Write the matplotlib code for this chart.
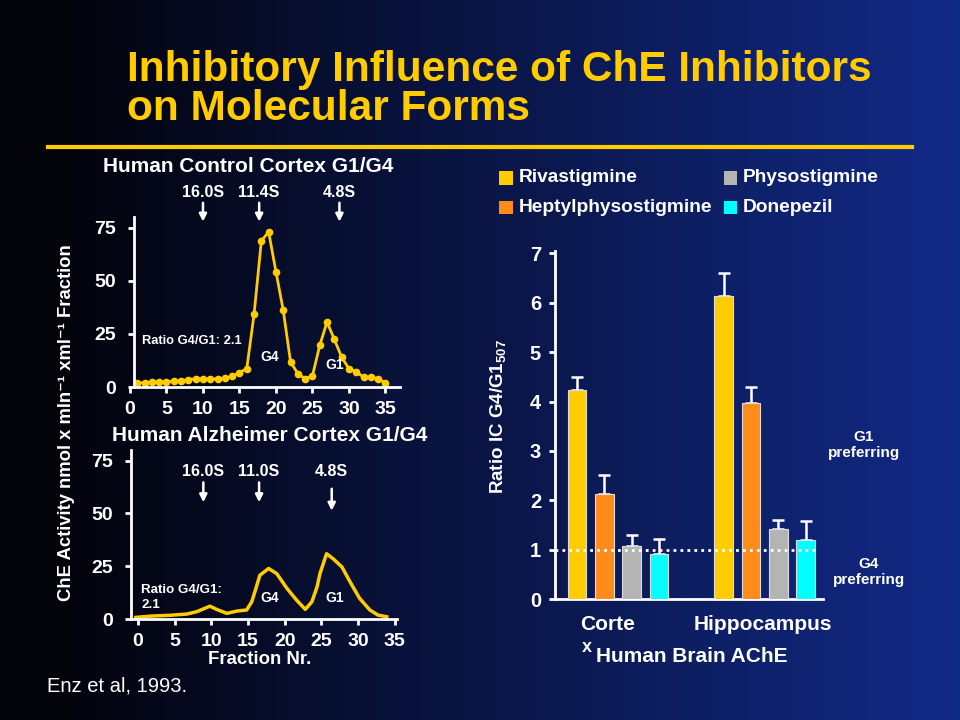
import numpy as np
import matplotlib
matplotlib.use('Agg')
import matplotlib.pyplot as plt

W, H = 960, 720
FONT = ['Liberation Sans', 'DejaVu Sans']
plt.rcParams['font.family'] = FONT
plt.rcParams['font.weight'] = 'bold'
plt.rcParams['mathtext.fontset'] = 'custom'
plt.rcParams['mathtext.rm'] = 'Liberation Sans:bold'
plt.rcParams['mathtext.default'] = 'rm'

YEL = '#FFCC00'
WHITE = 'white'

# control cortex profile (fraction, activity)
ctrl_frac = [1, 2, 3, 4, 5, 6, 7, 8, 9, 10, 11, 12, 13, 14, 15, 16, 17, 18,
             19, 20, 21, 22, 23, 24, 25, 26, 27, 28, 29, 30, 31, 32, 33, 34, 35]
ctrl_act = [1.9, 2.0, 2.4, 2.4, 2.4, 2.8, 2.8, 3.5, 3.8, 3.8, 3.8, 3.8, 4.2, 5.0,
            6.8, 8.6, 34.2, 68.8, 73.0, 54.2, 36.1, 11.8, 6.3, 3.9, 5.2, 19.6,
            30.6, 22.4, 14.1, 8.6, 7.1, 4.7, 4.7, 3.8, 2.0]

# alzheimer cortex profile (traced curve)
alz_frac = [-0.3, 1.7, 4.4, 6.7, 8.0, 9.8, 10.7, 12.1, 13.5, 14.8, 15.5, 16.0,
            16.6, 17.8, 18.9, 20.3, 21.6, 22.8, 23.7, 24.4, 24.8, 25.7, 26.6,
            27.8, 28.9, 30.2, 31.6, 32.7, 33.9]
alz_act = [0.9, 1.5, 1.9, 2.5, 3.6, 6.2, 4.7, 2.8, 3.9, 4.4, 8.3, 13.8, 20.8,
           24.0, 21.6, 14.6, 9.1, 4.7, 8.3, 15.3, 21.6, 31.0, 28.6, 24.7, 17.7,
           9.9, 4.4, 2.0, 1.2]

# right panel
regions = ['Corte', 'Hippocampus']
drugs = ['Rivastigmine', 'Heptylphysostigmine', 'Physostigmine', 'Donepezil']
drug_colors = ['#FFCC00', '#FF8C1A', '#B4B4B4', '#00FFFF']
ratio = {'Rivastigmine': [4.23, 6.13],
         'Heptylphysostigmine': [2.12, 3.96],
         'Physostigmine': [1.08, 1.43],
         'Donepezil': [0.91, 1.19]}
ratio_err = {'Rivastigmine': [0.27, 0.46],
             'Heptylphysostigmine': [0.39, 0.34],
             'Physostigmine': [0.22, 0.17],
             'Donepezil': [0.30, 0.40]}


def fx(x):
    return x / W


def fy(y):
    return 1 - y / H


fig = plt.figure(figsize=(9.6, 7.2), dpi=100)

# background gradient
bg = fig.add_axes([0, 0, 1, 1])
t = np.linspace(0, 1, 400)
s = np.clip((t - 0.05) / 0.95, 0, 1)
c0 = np.array([3, 3, 10]) / 255
c1 = np.array([18, 42, 135]) / 255
grad = c0[None, :] + (c1 - c0)[None, :] * s[:, None]
bg.imshow(grad[None, :, :], aspect='auto', extent=[0, 1, 0, 1])
bg.set_axis_off()

# title
fig.text(fx(127), fy(70), 'Inhibitory Influence of ChE Inhibitors',
         color=YEL, fontsize=30.5, fontweight='bold', va='center', ha='left')
fig.text(fx(127), fy(109), 'on Molecular Forms',
         color=YEL, fontsize=30.5, fontweight='bold', va='center', ha='left')
bg.plot([fx(48), fx(912)], [fy(147), fy(147)], color=YEL, lw=3)
bg.set_xlim(0, 1)
bg.set_ylim(0, 1)


def style_profile(ax):
    ax.set_facecolor('none')
    for sp in ['top', 'right']:
        ax.spines[sp].set_visible(False)
    for sp in ['left', 'bottom']:
        ax.spines[sp].set_color(WHITE)
        ax.spines[sp].set_linewidth(2)
    ax.tick_params(colors=WHITE, labelsize=14, width=2, length=4)
    ax.tick_params(axis='x', pad=6)
    ax.tick_params(axis='y', pad=9)
    ax.set_xticks([0, 5, 10, 15, 20, 25, 30, 35])
    ax.set_yticks([0, 25, 50, 75])
    for lab in ax.get_xticklabels() + ax.get_yticklabels():
        lab.set_fontweight('bold')


# top-left: control cortex
ax1 = fig.add_axes([fx(130), fy(387), (400 - 130) / W, (387 - 217) / H])
ax1.plot(ctrl_frac, ctrl_act, color=YEL, lw=2, marker='o', ms=4.5, clip_on=False)
ax1.set_ylim(0, 80)
style_profile(ax1)
ax1.set_xlim(0, 37)
ax1.spines['left'].set_position(('data', 0.55))
fig.text(fx(248), fy(167), 'Human Control Cortex G1/G4', color=WHITE,
         fontsize=15, ha='center', va='center')
for lab, xa in zip(['16.0S', '11.4S', '4.8S'], [10.0, 17.7, 28.7]):
    ax1.text(xa, 91.6, lab, color=WHITE, fontsize=11.5, ha='center', va='center',
             clip_on=False)
    ax1.annotate('', xy=(xa, 76.5), xytext=(xa, 88.0),
                 arrowprops=dict(arrowstyle='-|>', color=WHITE, lw=1.8,
                                 mutation_scale=11), annotation_clip=False)
ax1.text(1.6, 21.6, 'Ratio G4/G1: 2.1', color=WHITE, fontsize=9.3, va='center')
ax1.text(19.2, 14.1, 'G4', color=WHITE, fontsize=10, ha='center', va='center')
ax1.text(28.1, 10.5, 'G1', color=WHITE, fontsize=10, ha='center', va='center')

# bottom-left: alzheimer cortex
ax2 = fig.add_axes([fx(130.7), fy(619.3), (397 - 130.7) / W, (619.3 - 450) / H])
ax2.plot(alz_frac, alz_act, color=YEL, lw=2.5, clip_on=False)
ax2.set_xlim(-1, 35.3)
ax2.set_ylim(0, 80)
style_profile(ax2)
fig.text(fx(270), fy(436), 'Human Alzheimer Cortex G1/G4', color=WHITE,
         fontsize=15, ha='center', va='center')
for lab, xa, y0, y1 in zip(['16.0S', '11.0S', '4.8S'], [8.9, 16.5, 26.4],
                           [66.0, 66.0, 63.0], [54.0, 54.0, 50.0]):
    ax2.text(xa, 69.9, lab, color=WHITE, fontsize=11.5, ha='center', va='center')
    ax2.annotate('', xy=(xa, y1), xytext=(xa, y0),
                 arrowprops=dict(arrowstyle='-|>', color=WHITE, lw=1.8,
                                 mutation_scale=11))
ax2.text(0.45, 14, 'Ratio G4/G1:', color=WHITE, fontsize=9.6, va='center')
ax2.text(0.45, 6.8, '2.1', color=WHITE, fontsize=9.6, va='center')
ax2.text(18.0, 10, 'G4', color=WHITE, fontsize=10, ha='center', va='center')
ax2.text(26.8, 10, 'G1', color=WHITE, fontsize=10, ha='center', va='center')
fig.text(fx(260), fy(660), 'Fraction Nr.', color=WHITE, fontsize=13.4,
         ha='center', va='center')

fig.text(fx(67), fy(423), 'ChE Activity nmol x mln⁻¹ xml⁻¹ Fraction',
         color=WHITE, fontsize=13.3, rotation=90, ha='center', va='center')
fig.text(fx(47), fy(686), 'Enz et al, 1993.', color=WHITE, fontsize=14.5,
         fontweight='normal', ha='left', va='center')

# right: ratio bars
ax3 = fig.add_axes([fx(555), fy(599.3), (823.3 - 555) / W, (599.3 - 250.7) / H])
ax3.set_facecolor('none')
group_x = [0, 5.37]
bw = 0.68
for i, d in enumerate(drugs):
    xs = [g + i for g in group_x]
    ax3.bar(xs, ratio[d], width=bw, color=drug_colors[i], edgecolor='#dddddd',
            lw=0.8, zorder=3)
    ax3.errorbar(xs, ratio[d], yerr=[[0, 0], ratio_err[d]], fmt='none',
                 ecolor=WHITE, elinewidth=1.8, capsize=4, capthick=1.8, zorder=2)
ax3.plot([-0.81, 8.75], [1, 1], color=WHITE, lw=2, ls=(0, (1, 1.5)), zorder=4)
ax3.set_xlim(-0.81, 9.02)
ax3.set_ylim(0, 7.05)
ax3.set_yticks(range(0, 8))
ax3.set_xticks([])
for sp in ['top', 'right']:
    ax3.spines[sp].set_visible(False)
for sp in ['left', 'bottom']:
    ax3.spines[sp].set_color(WHITE)
    ax3.spines[sp].set_linewidth(2)
ax3.tick_params(axis='y', colors=WHITE, labelsize=14.5, width=2, length=4, pad=6)
for lab in ax3.get_yticklabels():
    lab.set_fontweight('bold')
fig.text(fx(498), fy(417), r'Ratio IC G4/G1$_{507}$', color=WHITE,
         fontsize=13.5, rotation=90, ha='center', va='center')

fig.text(fx(608), fy(624), regions[0], color=WHITE, fontsize=15,
         ha='center', va='center')
fig.text(fx(763), fy(624), regions[1], color=WHITE, fontsize=15,
         ha='center', va='center')
fig.text(fx(587), fy(648), 'x', color=WHITE, fontsize=13,
         ha='center', va='center')
fig.text(fx(692), fy(656), 'Human Brain AChE', color=WHITE, fontsize=15,
         ha='center', va='center')
fig.text(fx(864), fy(445), 'G1\npreferring', color=WHITE, fontsize=11,
         ha='center', va='center', linespacing=1.25)
fig.text(fx(869), fy(572), 'G4\npreferring', color=WHITE, fontsize=11,
         ha='center', va='center', linespacing=1.25)

# legend
leg_pos = [(506, 178), (506, 208), (730, 178), (730, 208)]
for (lx, ly), d, c in zip(leg_pos, drugs, drug_colors):
    bg.add_patch(plt.Rectangle((fx(lx - 6.5), fy(ly + 6.5)), 13 / W, 13 / H,
                               facecolor=c, edgecolor='none'))
    fig.text(fx(lx + 13), fy(ly), d, color=WHITE, fontsize=13.8,
             ha='left', va='center')

fig.savefig('out.png', dpi=100)
